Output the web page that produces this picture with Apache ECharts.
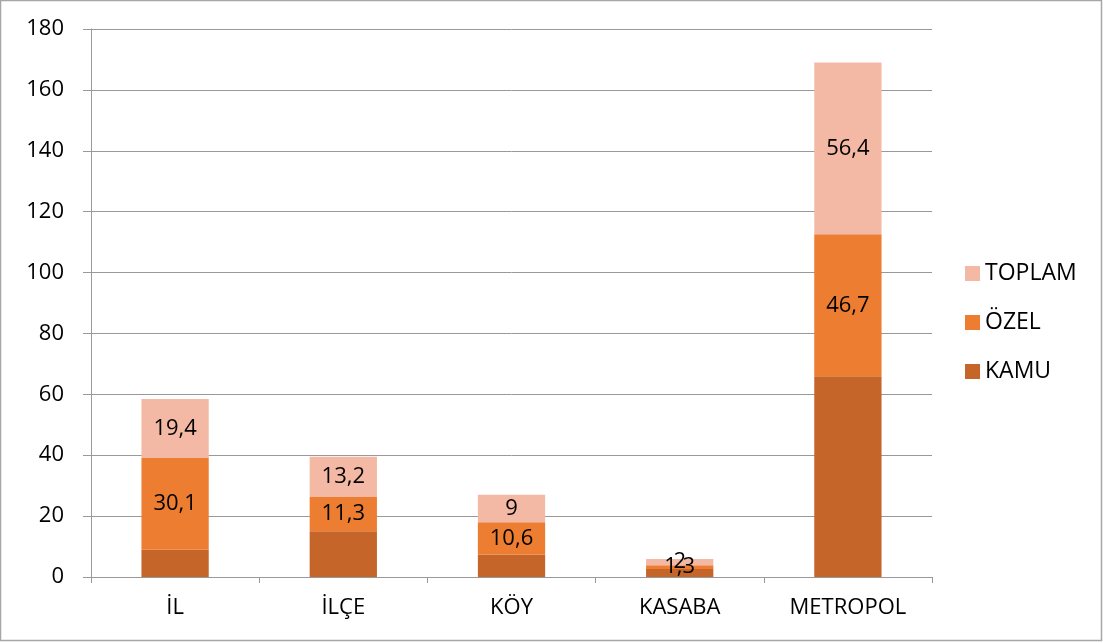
<!DOCTYPE html>
<html><head><meta charset="utf-8">
<script src="https://cdn.jsdelivr.net/npm/echarts@6/dist/echarts.min.js"></script>
<style>html,body{margin:0;padding:0;background:#fff}#c{width:1103px;height:643px}</style>
</head><body><div id="c"></div>
<script>
const categories = ['İL', 'İLÇE', 'KÖY', 'KASABA', 'METROPOL'];
const kamu = [9.0, 15.0, 7.4, 2.6, 65.9];
const ozel = [30.1, 11.3, 10.6, 1.3, 46.7];
const toplam = [19.4, 13.2, 9, 2, 56.4];
const yTicks = { min: 0, max: 180, interval: 20 };

const fontFamily = '"Open Sans", "Noto Sans", sans-serif';
const fmt = p => String(p.value).replace('.', ',');
const chart = echarts.init(document.getElementById('c'));
chart.setOption({
  animation: false,
  grid: { left: 91, right: 171, top: 29, bottom: 66 },
  graphic: [{ type: 'rect', shape: { x: 0.5, y: 0.5, width: 1101, height: 640 }, style: { fill: 'none', stroke: '#a6a6a6', lineWidth: 1.5 }, silent: true }],
  legend: {
    orient: 'vertical', left: 960, top: 257, itemWidth: 15, itemHeight: 15, itemGap: 26,
    data: ['TOPLAM', 'ÖZEL', 'KAMU'],
    textStyle: { fontSize: 23, color: '#000', fontFamily },
    icon: 'rect'
  },
  xAxis: {
    type: 'category', data: categories,
    axisLine: { lineStyle: { color: '#999', width: 1 } },
    axisTick: { show: true, length: 6, lineStyle: { color: '#999' } },
    axisLabel: { fontSize: 22, color: '#000', fontFamily, margin: 20 }
  },
  yAxis: {
    type: 'value', min: yTicks.min, max: yTicks.max, interval: yTicks.interval,
    axisLine: { show: true, lineStyle: { color: '#999' } },
    axisTick: { show: true, length: 8, lineStyle: { color: '#999' } },
    splitLine: { lineStyle: { color: '#999', width: 1 } },
    axisLabel: { fontSize: 22, color: '#000', fontFamily, margin: 27 }
  },
  series: [
    { name: 'KAMU', type: 'bar', stack: 's', data: kamu, barWidth: '40%', itemStyle: { color: '#C5652A' } },
    { name: 'ÖZEL', type: 'bar', stack: 's', data: ozel, itemStyle: { color: '#ED7D31' },
      label: { show: true, position: 'inside', formatter: fmt, fontSize: 22, color: '#000', fontFamily } },
    { name: 'TOPLAM', type: 'bar', stack: 's', data: toplam, itemStyle: { color: '#F4B9A5' },
      label: { show: true, position: 'inside', formatter: fmt, fontSize: 22, color: '#000', fontFamily } }
  ]
});
</script></body></html>
